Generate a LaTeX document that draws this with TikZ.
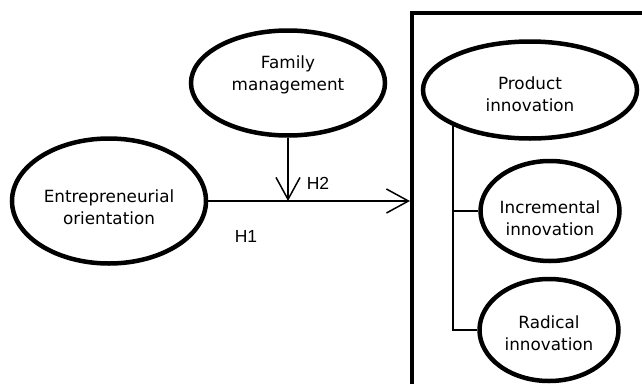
\documentclass[tikz,border=0pt]{standalone}
\usepackage{fontspec}
\setmainfont{DejaVu Sans}
\newfontfamily\hypfont{Liberation Sans}
\usepackage{tikz}
\usetikzlibrary{arrows.meta,shapes.geometric}
\tikzset{
  construct/.style={draw,ellipse,line width=4.5pt,inner sep=0pt},
  txt/.style={align=center,inner sep=0pt,font=\fontsize{16.8}{22}\selectfont},
  ar/.style={-{Straight Barb[length=22pt,width=24pt]},line width=1.5pt},
  hyp/.style={font=\hypfont\fontsize{17.5}{19}\selectfont},
  branch/.style={line width=1.5pt}
}
\begin{document}
\begin{tikzpicture}[x=1pt,y=-1pt]
\useasboundingbox (0,0) rectangle (642,383);
\clip (0,0) rectangle (642,383);
% dependent variable box
\draw[line width=4pt] (412,13) rectangle (680,420);
\node[construct,minimum width=194pt,minimum height=125pt,
  label={[txt,yshift=-6pt]center:Entrepreneurial\\orientation}] (eo) at (109,201) {};
\node[construct,minimum width=194pt,minimum height=105pt,
  label={[txt,yshift=8pt]center:Family\\management}] (fam) at (288,83) {};
\node[construct,minimum width=214pt,minimum height=97pt,
  label={[txt,yshift=-4pt]center:Product\\innovation}] (prod) at (530,90) {};
\node[construct,minimum width=139pt,minimum height=100pt,
  label={[txt,yshift=-7pt]center:Incremental\\innovation}] (incr) at (550,211) {};
\node[construct,minimum width=139pt,minimum height=102pt,
  label={[txt,yshift=-3pt]center:Radical\\innovation}] (radi) at (549,330) {};
\coordinate (mid) at (288,201);
\coordinate (boxin) at (410,201);
\draw[ar] (fam.south) -- (mid);
\draw[ar] (eo.east) -- (boxin);
\node[hyp] (h2) at (318,183) {H2};
\node[hyp] (h1) at (246,236) {H1};
% dimensions
\draw[branch] (prod.205) |- (radi.west);
\draw[branch] (prod.205 |- incr.west) -- (incr.west);
\end{tikzpicture}
\end{document}
